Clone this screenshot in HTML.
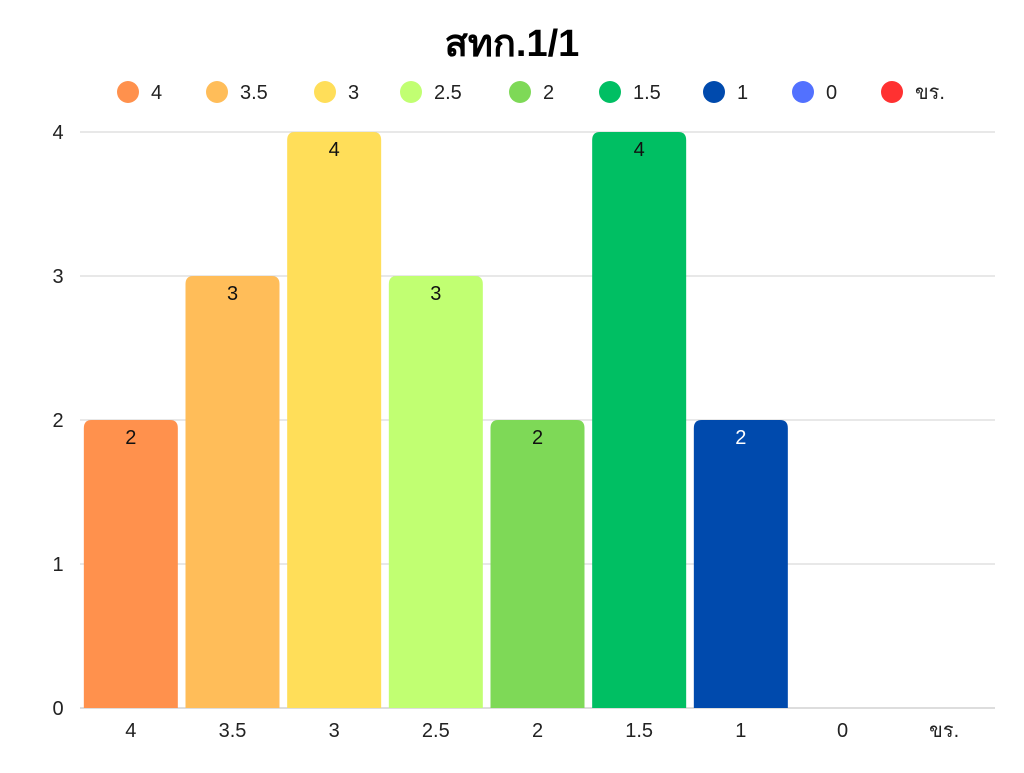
<!DOCTYPE html>
<html><head><meta charset="utf-8">
<style>
body{margin:0;background:#fff;width:1024px;height:768px;overflow:hidden;font-family:"Liberation Sans","DejaVu Sans",sans-serif;}
</style></head>
<body>
<svg width="1024" height="768" id="chart" font-family="Liberation Sans, DejaVu Sans, sans-serif">
<text x="512" y="56" text-anchor="middle" font-size="38" font-weight="bold" fill="#000">สทก.1/1</text>
</svg>
<script>
const categories=["4","3.5","3","2.5","2","1.5","1","0","ขร."];
const values=[2,3,4,3,2,4,2,0,0];
const colors=["#FF914D","#FFBD59","#FFDE59","#C1FF72","#7ED957","#00BF63","#004AAD","#5271FF","#FF3131"];
const yTicks=[0,1,2,3,4];
const legendX=[128,217,325,411,520,610,714,803,892];
const svg=document.getElementById('chart');
const NS="http://www.w3.org/2000/svg";
const x0=80,x1=995,y0=708,yTop=132,yMax=4;
const band=(x1-x0)/categories.length;
const bw=94;
function yScale(v){return y0-(v/yMax)*(y0-yTop);}
function xCenter(i){return x0+band*i+band/2;}
function mk(tag,attrs){const e=document.createElementNS(NS,tag);for(const k in attrs)e.setAttribute(k,attrs[k]);svg.appendChild(e);return e;}
yTicks.forEach(t=>{
  const l=mk('line',{x1:x0,x2:x1,y1:yScale(t),y2:yScale(t),stroke:t===0?'#bbb':'#d0d0d0','stroke-width':1});
  
  
  const tx=mk('text',{x:58,y:yScale(t)+7,'text-anchor':'middle','font-size':20,fill:'#222'});
  tx.textContent=t;
  
  
});
categories.forEach((c,i)=>{
  const cx=xCenter(i);
  const v=values[i];
  if(v>0){
    const top=yScale(v),h=y0-top,r=8,x=cx-bw/2;
    const p=mk('path',{d:`M${x},${y0} L${x},${top+r} Q${x},${top} ${x+r},${top} L${x+bw-r},${top} Q${x+bw},${top} ${x+bw},${top+r} L${x+bw},${y0} Z`,fill:colors[i]});
    
    
    const vl=mk('text',{x:cx,y:top+24,'text-anchor':'middle','font-size':20,fill:i===6?'#fff':'#111'});
    vl.textContent=v;
    
    
  }
  const xl=mk('text',{x:cx,y:737,'text-anchor':'middle','font-size':20,fill:'#222'});
  xl.textContent=c;
  
  
  const lc=mk('circle',{cx:legendX[i],cy:92,r:11,fill:colors[i]});
  
  
  const lt=mk('text',{x:legendX[i]+23,y:99,'font-size':20,fill:'#222'});
  lt.textContent=c;
  
  
});
</script>
</body></html>
